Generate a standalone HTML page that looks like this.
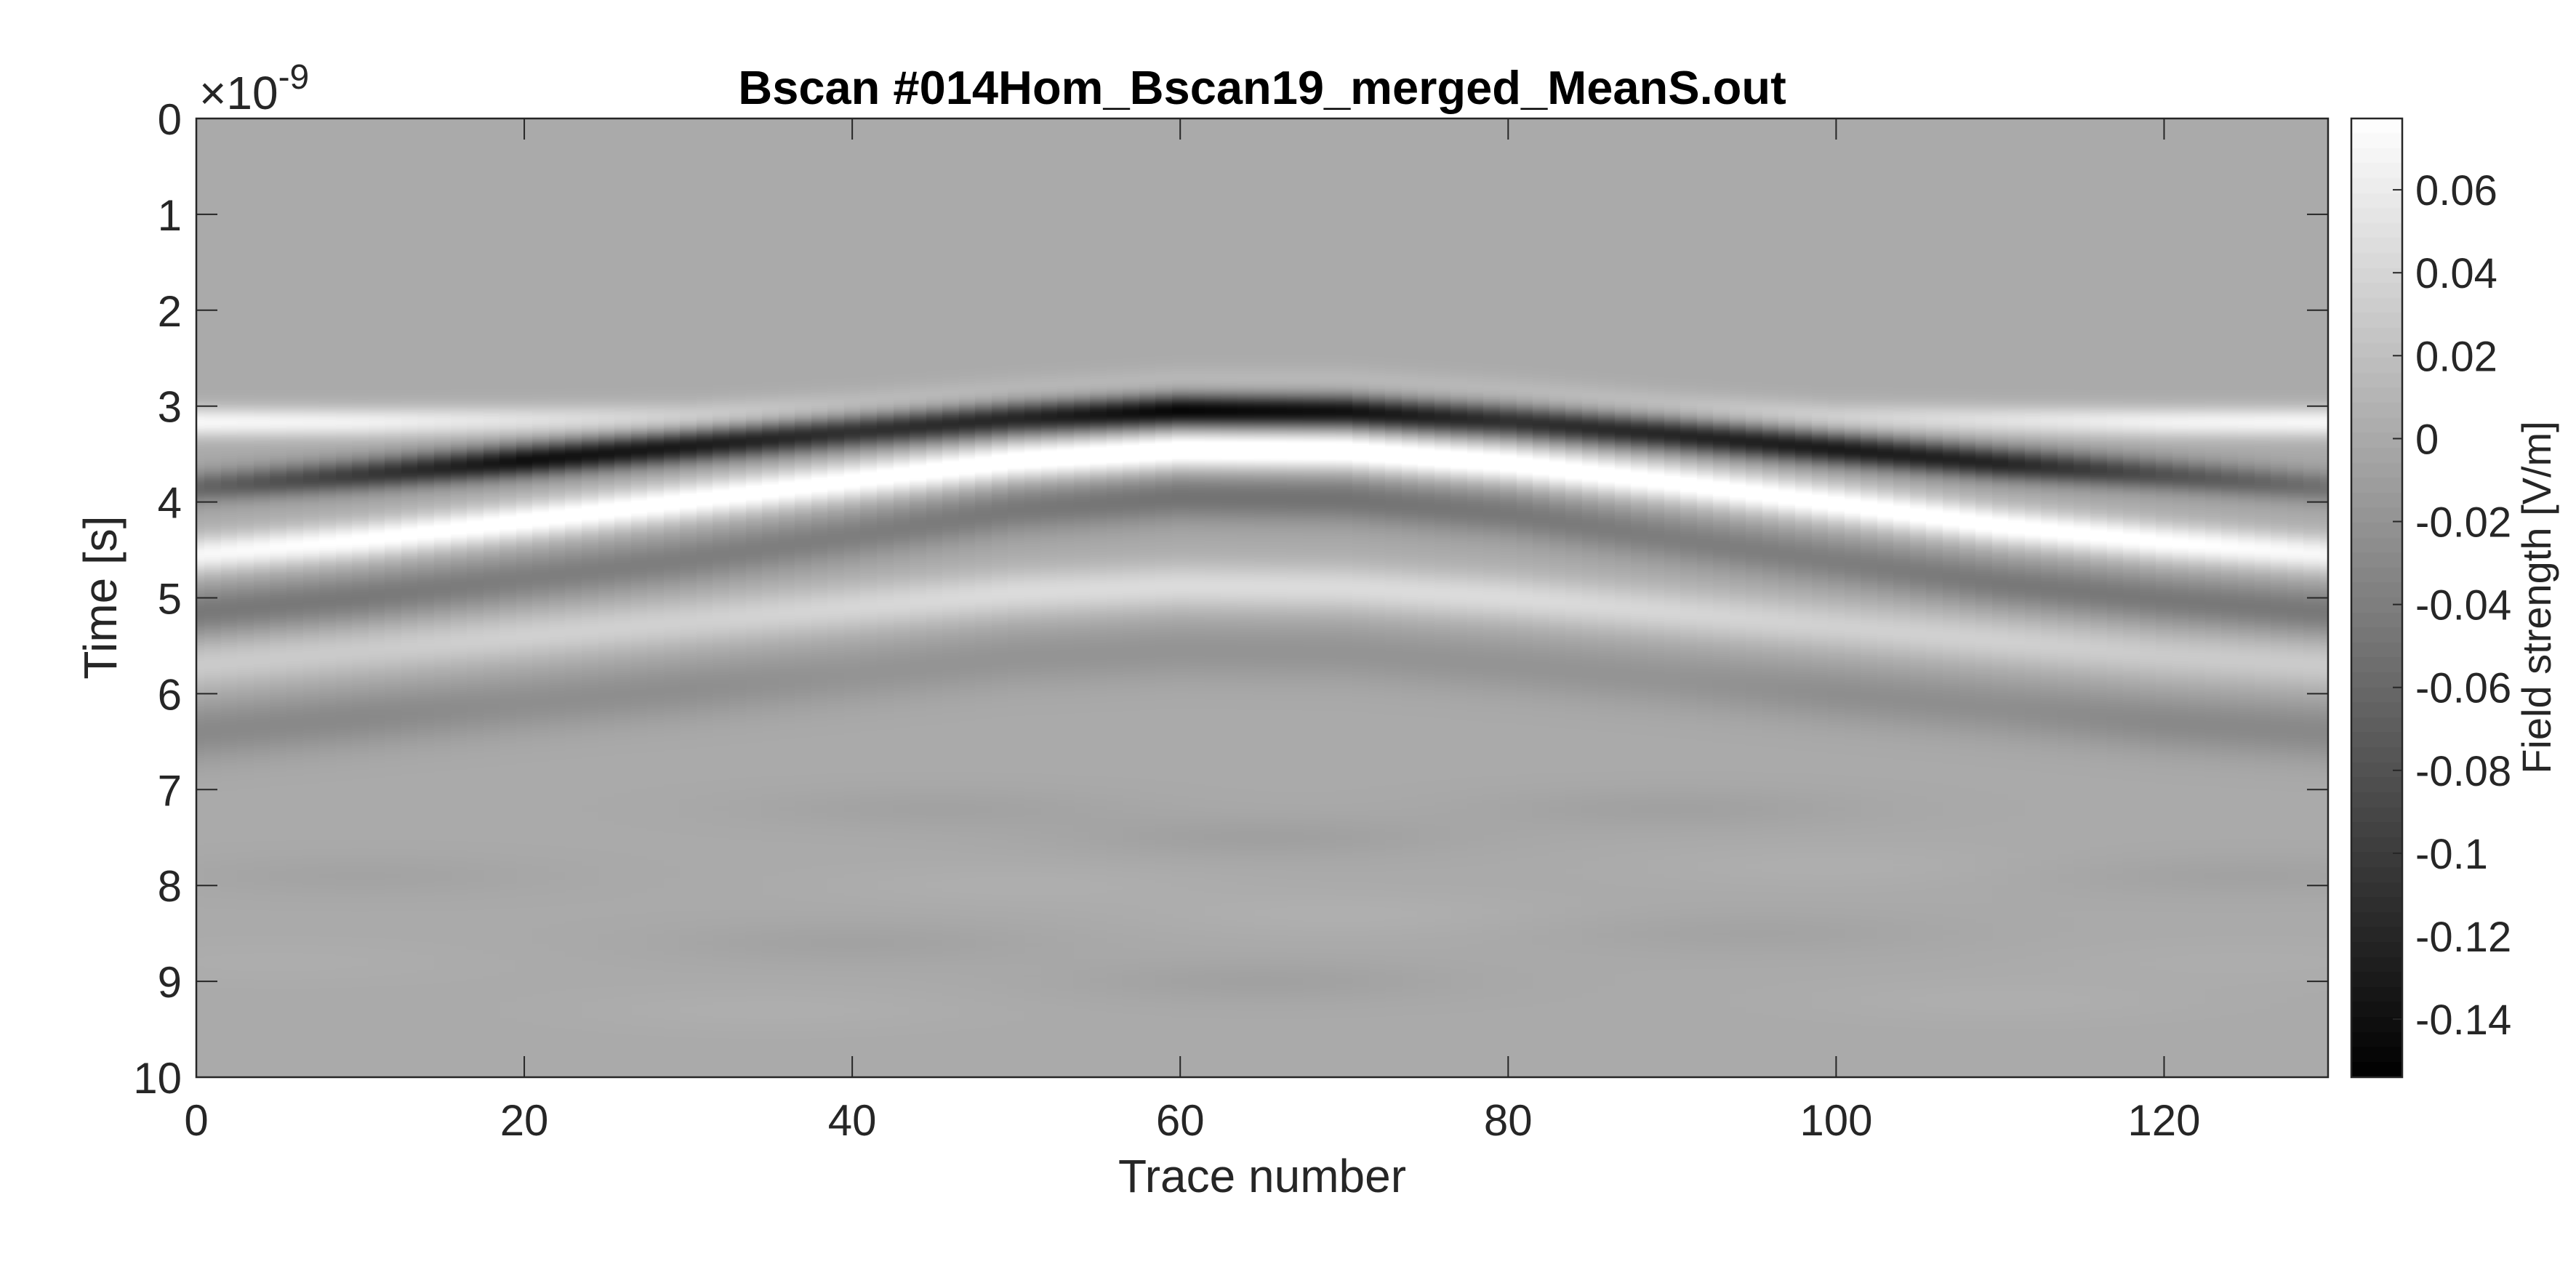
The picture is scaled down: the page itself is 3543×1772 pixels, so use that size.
<!DOCTYPE html>
<html><head><meta charset="utf-8"><style>
html,body{margin:0;padding:0;background:#fff;}
#wrap{position:relative;width:3543px;height:1772px;overflow:hidden;font-family:"Liberation Sans",Arial,sans-serif;color:#262626;}
canvas{position:absolute;}
</style></head><body>
<div id="wrap">
<canvas id="hm" style="left:270px;top:163px;" width="2932" height="1319"></canvas>
<canvas id="cb" style="left:3234px;top:163px;" width="70" height="1319"></canvas>
<svg id="ov" width="3543" height="1772" style="position:absolute;left:0;top:0"></svg>
</div>
<script>
// ---- data ----
const sampleTraces = [0,10,20,30,40,50,60,70,80,90,100,110,120,130];
const r1Time = [3.85,3.72,3.57,3.42,3.27,3.13,3.05,3.06,3.16,3.30,3.45,3.60,3.72,3.85];
const r1Amp  = [-0.06,-0.10,-0.14,-0.13,-0.11,-0.12,-0.15,-0.14,-0.11,-0.12,-0.13,-0.12,-0.08,-0.05];
const r2Time = [4.55,4.40,4.20,3.99,3.78,3.57,3.46,3.47,3.60,3.80,4.02,4.25,4.42,4.55];
const r2Amp  = [0.07,0.08,0.085,0.085,0.085,0.09,0.095,0.095,0.09,0.085,0.085,0.085,0.08,0.07];
const r3Time = [5.15,5.00,4.80,4.60,4.35,4.08,3.95,3.97,4.12,4.38,4.62,4.85,5.02,5.15];
const r3Amp  = [-0.045,-0.045,-0.04,-0.04,-0.04,-0.045,-0.05,-0.05,-0.045,-0.04,-0.04,-0.045,-0.045,-0.045];
const r4Time = [5.70,5.55,5.40,5.25,5.10,4.95,4.88,4.90,5.00,5.15,5.30,5.45,5.60,5.70];
const r4Amp  = [0.03,0.03,0.035,0.035,0.04,0.045,0.045,0.045,0.045,0.04,0.035,0.035,0.03,0.03];
const r5Time = [6.40,6.25,6.10,5.95,5.80,5.62,5.55,5.57,5.70,5.85,6.00,6.15,6.30,6.40];
const r5Amp  = [-0.03,-0.03,-0.025,-0.025,-0.02,-0.02,-0.02,-0.02,-0.02,-0.02,-0.025,-0.025,-0.03,-0.03];
const dTime  = [3.17,3.17,3.15,3.12,3.0,2.85,2.75,2.75,2.85,3.0,3.12,3.15,3.17,3.17];
const dAmp   = [0.07,0.065,0.05,0.035,0.02,0.015,0.015,0.015,0.015,0.02,0.035,0.05,0.065,0.07];
// faint late blobs: trace centre, time centre, amplitude
const blobTrace = [45,65,90,40,65,95,10,125,70,50,100,110,35,5,125];
const blobTime  = [7.2,7.5,7.2,8.6,9.0,8.5,7.9,7.9,8.3,8.0,7.8,9.2,9.3,8.8,8.8];
const blobAmp   = [-0.007,-0.009,-0.008,-0.007,-0.008,-0.006,-0.006,-0.007,0.005,0.004,0.004,0.004,0.004,0.003,0.003];
const cMin = -0.154, cMax = 0.0772;
const yTicks = [0,1,2,3,4,5,6,7,8,9,10];
const xTicks = [0,20,40,60,80,100,120];
const cbTicks = [0.06,0.04,0.02,0,-0.02,-0.04,-0.06,-0.08,-0.1,-0.12,-0.14];
const cbLabels = ["0.06","0.04","0.02","0","-0.02","-0.04","-0.06","-0.08","-0.1","-0.12","-0.14"];

// ---- axes ----
const PL=270, PT=163, PW=2932, PH=1319, NT=130;
const xS = t => PL + t/NT*PW;
const yS = s => PT + s/10*PH;
const cS = v => PT + (cMax - v)/(cMax - cMin)*PH;
function interp(arr, tr){
  let i = Math.min(Math.floor(tr/10), arr.length-2); const f=(tr-sampleTraces[i])/10;
  return arr[i]*(1-f)+arr[i+1]*f;
}
const bands = [[r1Time,r1Amp,0.17],[r2Time,r2Amp,0.2],[r3Time,r3Amp,0.25],[r4Time,r4Amp,0.25],[r5Time,r5Amp,0.3],[dTime,dAmp,0.16]];
function gray(v){ let g=(v-cMin)/(cMax-cMin); g=Math.max(0,Math.min(1,g)); return Math.round(g*255); }

// heatmap
const hm=document.getElementById('hm').getContext('2d');
const img=hm.createImageData(PW,PH);
for(let tr=0;tr<=NT;tr++){
  const x0=Math.max(0,Math.round(xS(tr-0.5)-PL)), x1=Math.min(PW,Math.round(xS(tr+0.5)-PL));
  const params=bands.map(b=>[interp(b[0],tr),interp(b[1],tr),b[2]]);
  const bw=blobTrace.map((c,i)=>{const d=(tr-c)/12;return blobAmp[i]*Math.exp(-d*d);});
  for(let py=0;py<PH;py++){
    const t=(py+0.5)/PH*10; let v=0;
    for(const p of params){const d=(t-p[0])/p[2]; v+=p[1]*Math.exp(-d*d);}
    for(let i=0;i<blobTime.length;i++){const d=(t-blobTime[i])/0.22; v+=bw[i]*Math.exp(-d*d);}
    const g=gray(v);
    for(let px=x0;px<x1;px++){const k=(py*PW+px)*4;img.data[k]=img.data[k+1]=img.data[k+2]=g;img.data[k+3]=255;}
  }
}
hm.putImageData(img,0,0);
// colorbar
const cb=document.getElementById('cb').getContext('2d');
for(let i=0;i<64;i++){const v=cMax-(i+0.5)/64*(cMax-cMin);const g=gray(v);cb.fillStyle=`rgb(${g},${g},${g})`;cb.fillRect(0,Math.floor(i*PH/64),70,Math.ceil(PH/64)+1);}

const NS='http://www.w3.org/2000/svg', ov=document.getElementById('ov');
function mk(tag,attrs,txt){const e=document.createElementNS(NS,tag);for(const k in attrs)e.setAttribute(k,attrs[k]);if(txt!==undefined)e.textContent=txt;ov.appendChild(e);return e;}
let e;
e=mk('rect',{x:PL,y:PT,width:PW,height:PH,fill:'none',stroke:'#262626','stroke-width':2.5});


e=mk('rect',{x:3234,y:PT,width:70,height:PH,fill:'none',stroke:'#262626','stroke-width':2.5});


for(const v of yTicks){
  const y=yS(v);
  mk('line',{x1:PL,x2:PL+29,y1:y,y2:y,stroke:'#262626','stroke-width':2});
  mk('line',{x1:PL+PW-29,x2:PL+PW,y1:y,y2:y,stroke:'#262626','stroke-width':2});
  e=mk('text',{x:PL-20,y:y+22,'text-anchor':'end','font-size':60,fill:'#262626'},String(v));
  
  
}
for(const v of xTicks){
  const x=xS(v);
  mk('line',{x1:x,x2:x,y1:PT+PH,y2:PT+PH-29,stroke:'#262626','stroke-width':2});
  mk('line',{x1:x,x2:x,y1:PT,y2:PT+29,stroke:'#262626','stroke-width':2});
  e=mk('text',{x:x,y:1562,'text-anchor':'middle','font-size':60,fill:'#262626'},String(v));
  
  
}
cbTicks.forEach((v,i)=>{
  const y=cS(v);
  mk('line',{x1:3291,x2:3304,y1:y,y2:y,stroke:'#262626','stroke-width':2});
  const t=mk('text',{x:3322,y:y+21,'font-size':58,fill:'#262626'},cbLabels[i]);
  
  
});
e=mk('text',{x:1736,y:143,'text-anchor':'middle','font-size':65,'font-weight':'bold',fill:'#000'},'Bscan #014Hom_Bscan19_merged_MeanS.out');


e=mk('text',{x:1736,y:1640,'text-anchor':'middle','font-size':64,fill:'#262626'},'Trace number');


e=mk('text',{x:160,y:822,'text-anchor':'middle','font-size':64,fill:'#262626',transform:'rotate(-90 160 822)'},'Time [s]');


e=mk('text',{x:3508,y:822,'text-anchor':'middle','font-size':56,fill:'#262626',transform:'rotate(-90 3508 822)'},'Field strength [V/m]');


e=mk('text',{x:274,y:150,'font-size':64,fill:'#262626'},'');


const s1=document.createElementNS(NS,'tspan');s1.textContent='\u00d710';e.appendChild(s1);
const s2=document.createElementNS(NS,'tspan');s2.setAttribute('dy','-28');s2.setAttribute('font-size','48');s2.textContent='-9';e.appendChild(s2);
</script>
</body></html>
